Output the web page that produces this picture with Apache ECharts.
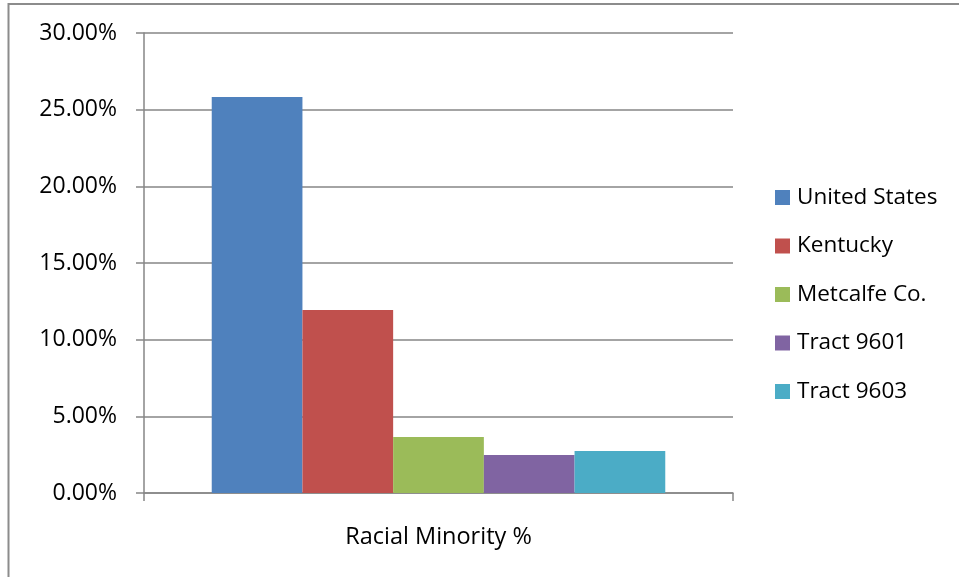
<!DOCTYPE html>
<html>
<head>
<meta charset="utf-8">
<script src="https://cdn.jsdelivr.net/npm/echarts@6/dist/echarts.min.js"></script>
<style>html,body{margin:0;padding:0;background:#fff}#c{width:959px;height:577px}</style>
</head>
<body>
<div id="c"></div>
<script>
const categories = ["Racial Minority %"];
const seriesNames = ["United States", "Kentucky", "Metcalfe Co.", "Tract 9601", "Tract 9603"];
const usValues = [0.2583];
const kyValues = [0.1193];
const metcalfeValues = [0.0365];
const tract9601Values = [0.0248];
const tract9603Values = [0.0274];
const colors = ["#4F81BD", "#C0504D", "#9BBB59", "#8064A2", "#4BACC6"];
const allValues = [usValues, kyValues, metcalfeValues, tract9601Values, tract9603Values];

const chart = echarts.init(document.getElementById('c'));
const font = "'Open Sans', sans-serif";
chart.setOption({
  animation: false,
  backgroundColor: '#fff',
  graphic: [{
    type: 'polyline', shape: {points: [[8.5, 600], [8.5, 4], [959, 4]]},
    style: {fill: 'none', stroke: '#8c8c8c', lineWidth: 2}, silent: true
  }],
  grid: {left: 144, top: 33, width: 589, height: 460, containLabel: false},
  legend: {
    orient: 'vertical', left: 770, top: 181,
    itemWidth: 15, itemHeight: 15, itemGap: 25.5,
    icon: 'rect',
    textStyle: {fontFamily: font, fontSize: 22.5, color: '#000', padding: [0,0,0,2]},
    data: seriesNames
  },
  xAxis: {
    type: 'category', data: categories,
    axisLine: {lineStyle: {color: '#868686', width: 1.5}},
    axisTick: {show: true, length: 8, lineStyle: {color: '#868686', width: 1.5}},
    axisLabel: {fontFamily: font, fontSize: 23.5, color: '#000', margin: 32}
  },
  yAxis: {
    type: 'value', min: 0, max: 0.30, interval: 0.05,
    axisLine: {show: true, lineStyle: {color: '#868686', width: 1.5}},
    axisTick: {show: true, length: 8, inside: false, lineStyle: {color: '#868686', width: 1.5}},
    splitLine: {lineStyle: {color: '#868686', width: 1.5}},
    axisLabel: {fontFamily: font, fontSize: 23, color: '#000', margin: 27,
      formatter: v => (v * 100).toFixed(2) + '%'}
  },
  series: seriesNames.map((n, i) => ({
    name: n, type: 'bar', data: allValues[i],
    itemStyle: {color: colors[i]},
    barGap: '0%', barCategoryGap: '23%'
  }))
});
</script>
</body>
</html>
